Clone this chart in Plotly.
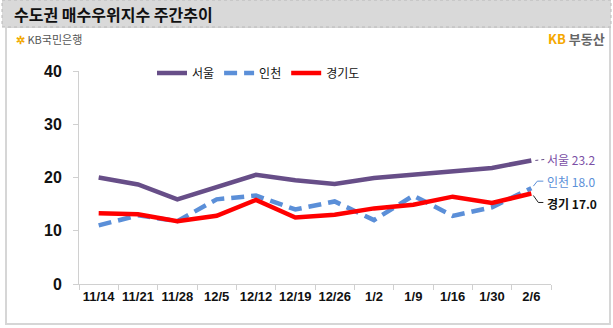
import plotly.graph_objects as go

# Weekly buyer-superiority index, Seoul metropolitan area
weeks = ["11/14", "11/21", "11/28", "12/5", "12/12", "12/19", "12/26",
         "1/2", "1/9", "1/16", "1/30", "2/6"]
seoul = [20.0, 18.7, 15.9, 18.3, 20.5, 19.5, 18.8, 19.9, 20.5, 21.0, 21.8, 23.2]
incheon = [11.0, 12.9, 11.8, 15.9, 16.6, 14.0, 15.5, 12.0, 16.6, 12.8, 14.4, 18.0]
gyeonggi = [13.3, 13.1, 11.8, 12.8, 15.8, 12.5, 13.0, 14.2, 14.9, 16.4, 15.2, 17.0]
y_ticks = [0, 10, 20, 30, 40]

W, H = 613, 328
L, R, T, B = 79, 62, 71, 44
PW, PH = W - L - R, H - T - B

C_SEOUL = "#674e88"
C_INCHEON = "#5b8fd8"
C_GG = "#ff0000"
KR = "Noto Sans CJK KR"
NUM = "Liberation Sans"


def px(x):
    return (x - L) / PW


def py(y):
    return (H - B - y) / PH


fig = go.Figure()
fig.add_trace(go.Scatter(x=weeks, y=seoul, name="서울", mode="lines",
                         line=dict(color=C_SEOUL, width=4.5)))
fig.add_trace(go.Scatter(x=weeks, y=incheon, name="인천", mode="lines",
                         line=dict(color=C_INCHEON, width=4.5, dash="13px,7px")))
fig.add_trace(go.Scatter(x=weeks, y=gyeonggi, name="경기도", mode="lines",
                         line=dict(color=C_GG, width=4.5)))

shapes = [
    # outer white panel
    dict(type="rect", xref="paper", yref="paper", x0=px(6), x1=px(610),
         y0=py(324), y1=py(27), line=dict(color="#d6d6d6", width=2),
         fillcolor="rgba(0,0,0,0)", layer="below"),
    # title bar
    dict(type="rect", xref="paper", yref="paper", x0=px(2), x1=px(611),
         y0=py(27), y1=py(0), line=dict(color="#b8b8b8", width=1, dash="dot"),
         fillcolor="#d9d9d9", layer="below"),
]

# leader lines next to the end labels (pixel offsets from the last point)
last = len(weeks) - 1
leaders = [
    (seoul[-1], "M 4,0 L 13,1", C_SEOUL, "dot"),
    (incheon[-1], "M 2,2 L 6,7 L 12,7", C_INCHEON, "solid"),
    (gyeonggi[-1], "M 2,-2 L 7,-9 L 12,-9", "#222222", "solid"),
]
for val, path, col, dash in leaders:
    shapes.append(dict(type="path", xref="x", yref="y", xsizemode="pixel",
                       ysizemode="pixel", xanchor=last, yanchor=val, path=path,
                       line=dict(color=col, width=1, dash=dash)))

annotations = [
    dict(text="<b>수도권 매수우위지수 주간추이</b>", xref="paper", yref="paper",
         x=px(12), y=py(14), xanchor="left", yanchor="middle", showarrow=False,
         font=dict(family=KR, size=16, color="#111111")),
    dict(text="<span style='color:#f2a900'><b>✲</b></span> KB국민은행",
         xref="paper", yref="paper", x=px(14), y=py(39), xanchor="left",
         yanchor="middle", showarrow=False,
         font=dict(family=KR, size=11, color="#555555")),
    dict(text="<b><span style='color:#f5a800'>KB</span> 부동산</b>",
         xref="paper", yref="paper", x=px(607), y=py(38), xanchor="right",
         yanchor="middle", showarrow=False,
         font=dict(family=KR, size=13, color="#666666")),
    dict(text=f"서울 {seoul[-1]:.1f}", xref="x", yref="y", x=last, y=seoul[-1],
         xanchor="left", yanchor="middle", xshift=14, yshift=1, showarrow=False,
         font=dict(family=KR, size=12, color="#7b4fa6")),
    dict(text=f"인천 {incheon[-1]:.1f}", xref="x", yref="y", x=last, y=incheon[-1],
         xanchor="left", yanchor="middle", xshift=14, yshift=7, showarrow=False,
         font=dict(family=KR, size=12, color="#5b8fd8")),
    dict(text=f"<b>경기 {gyeonggi[-1]:.1f}</b>", xref="x", yref="y", x=last,
         y=gyeonggi[-1], xanchor="left", yanchor="middle", xshift=14, yshift=-10,
         showarrow=False, font=dict(family=KR, size=12, color="#111111")),
]

fig.update_layout(
    width=W, height=H, margin=dict(l=L, r=R, t=T, b=B),
    paper_bgcolor="white", plot_bgcolor="white",
    font=dict(family=KR, color="#111111"),
    shapes=shapes, annotations=annotations,
    showlegend=True,
    legend=dict(orientation="h", x=px(152), y=py(73), xanchor="left",
                yanchor="middle", bgcolor="rgba(0,0,0,0)",
                font=dict(family=KR, size=12, color="#111111"),
                itemwidth=30, tracegroupgap=0),
    xaxis=dict(type="category", range=[-0.5, len(weeks) - 0.5],
               showgrid=False, showline=True,
               linecolor="#d0d0d0", linewidth=1, ticks="outside",
               tickson="boundaries", ticklen=5, tickcolor="#d0d0d0",
               tickangle=0,
               tickfont=dict(family=NUM, size=13, color="#111111", weight="bold"),
               fixedrange=True),
    yaxis=dict(range=[0, 40], tickvals=y_ticks, showgrid=False, zeroline=False,
               showline=True, linecolor="#d0d0d0", linewidth=1,
               ticks="outside", ticklen=5, tickcolor="#d0d0d0",
               ticklabelstandoff=8,
               tickfont=dict(family=NUM, size=16, color="#111111", weight="bold"),
               fixedrange=True),
)

fig.write_html("out.html", config=dict(displayModeBar=False))
